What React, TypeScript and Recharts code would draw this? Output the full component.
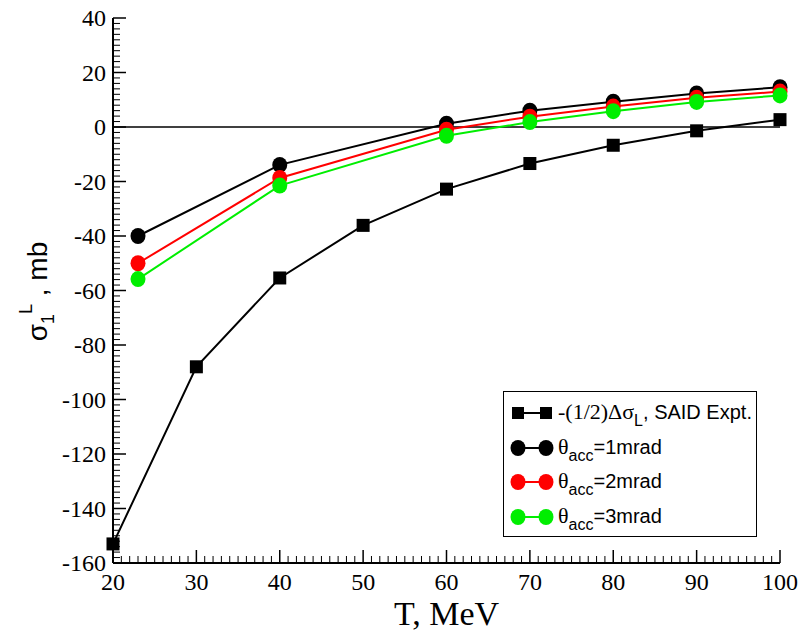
import React from 'react';
import { LineChart, Line, XAxis, YAxis, ReferenceLine, Legend } from 'recharts';

// SAID experimental points, -(1/2)ΔσL
const SAID_T = [20, 30, 40, 50, 60, 70, 80, 90, 100];
const SAID_SIGMA = [-153, -88, -55.4, -36.1, -22.8, -13.4, -6.7, -1.4, 2.7];

// calculated σ1L for different acceptance angles
const THEORY_T = [23, 40, 60, 70, 80, 90, 100];
const SIGMA_1MRAD = [-40, -13.9, 1.2, 6, 9.3, 12.3, 14.6];
const SIGMA_2MRAD = [-50, -18.7, -1, 3.8, 7.5, 10.7, 13];
const SIGMA_3MRAD = [-55.8, -21.5, -3.2, 1.8, 5.8, 9.2, 11.6];

const X_LABELS = [20, 30, 40, 50, 60, 70, 80, 90, 100];
const Y_LABELS = [-160, -140, -120, -100, -80, -60, -40, -20, 0, 20, 40];
const X_TICKS = Array.from({ length: 81 }, (_, i) => 20 + i);
const Y_TICKS = Array.from({ length: 101 }, (_, i) => -160 + 2 * i);

const LEGEND_SYMBOLS = ['-(1/2)Δσ', 'θ', 'θ', 'θ'];
const LEGEND_SUBS = ['L', 'acc', 'acc', 'acc'];
const LEGEND_REST = [', SAID Expt.', '=1mrad', '=2mrad', '=3mrad'];

const SERIF = "'Liberation Serif', 'Times New Roman', serif";
const SANS = "'Liberation Sans', Arial, sans-serif";

const tickFont = { fontFamily: SERIF, fontSize: 24, fill: '#000' };

const toPoints = (xs: number[], ys: number[]) => xs.map((x, i) => ({ x, y: ys[i] }));

const SERIES = [
  { key: 'said', data: toPoints(SAID_T, SAID_SIGMA), color: '#000000', square: true },
  { key: 'm1', data: toPoints(THEORY_T, SIGMA_1MRAD), color: '#000000', square: false },
  { key: 'm2', data: toPoints(THEORY_T, SIGMA_2MRAD), color: '#ff0000', square: false },
  { key: 'm3', data: toPoints(THEORY_T, SIGMA_3MRAD), color: '#00ee00', square: false },
];

const BottomTick = ({ x, y, payload }: any) => {
  const major = X_LABELS.includes(payload.value);
  return (
    <g>
      <line x1={x} x2={x} y1={y} y2={y - (major ? 13 : 7)} stroke="#000" strokeWidth={major ? 1.5 : 1} />
      {major && (
        <text x={x} y={y + 27} textAnchor="middle" style={tickFont}>
          {payload.value}
        </text>
      )}
    </g>
  );
};

const TopTick = ({ x, y, payload }: any) => {
  const major = X_LABELS.includes(payload.value);
  return <line x1={x} x2={x} y1={y} y2={y + (major ? 13 : 7)} stroke="#000" strokeWidth={major ? 1.5 : 1} />;
};

const LeftTick = ({ x, y, payload }: any) => {
  const major = Y_LABELS.includes(payload.value);
  return (
    <g>
      <line x1={x} x2={x + (major ? 13 : 7)} y1={y} y2={y} stroke="#000" strokeWidth={major ? 1.5 : 1} />
      {major && (
        <text x={x - 7} y={y + 8} textAnchor="end" style={tickFont}>
          {payload.value}
        </text>
      )}
    </g>
  );
};

const RightTick = ({ x, y, payload }: any) => {
  const major = Y_LABELS.includes(payload.value);
  return <line x1={x} x2={x - (major ? 13 : 7)} y1={y} y2={y} stroke="#000" strokeWidth={major ? 1.5 : 1} />;
};

const SquareDot = ({ cx, cy, index }: any) => (
  <rect key={`sq-${index}`} x={cx - 6.5} y={cy - 6.5} width={13} height={13} fill="#000" />
);

const makeCircleDot = (color: string) => ({ cx, cy, index }: any) => (
  <ellipse key={`c-${index}`} cx={cx} cy={cy} rx={7.5} ry={8} fill={color} />
);

const renderXLabel = ({ viewBox }: any) => (
  <text
    x={viewBox.x + viewBox.width / 2}
    y={viewBox.y + 62}
    textAnchor="middle"
    style={{ fontFamily: SERIF, fontSize: 34, fill: '#000' }}
  >
    T, MeV
  </text>
);

const renderYLabel = ({ viewBox }: any) => {
  const cx = viewBox.x + 47;
  const cy = viewBox.y + viewBox.height / 2 + 1;
  return (
    <text
      x={cx}
      y={cy}
      transform={`rotate(-90, ${cx}, ${cy})`}
      textAnchor="middle"
      style={{ fontFamily: SANS, fontSize: 28, fill: '#000' }}
    >
      <tspan>σ</tspan>
      <tspan fontSize={18} dy={7}>1</tspan>
      <tspan fontSize={18} dy={-22}>L</tspan>
      <tspan dy={15}> , mb</tspan>
    </text>
  );
};

const LegendBox = () => (
  <div
    style={{
      width: 254,
      height: 146,
      boxSizing: 'border-box',
      border: '1.5px solid #000',
      background: '#fff',
      paddingTop: 4,
    }}
  >
    {SERIES.map((s, i) => (
      <div key={s.key} style={{ height: 34.5, display: 'flex', alignItems: 'center' }}>
        <svg width={54} height={20} style={{ flex: 'none' }}>
          <line x1={14} x2={42} y1={10} y2={10} stroke={s.color} strokeWidth={2} />
          {s.square ? (
            <>
              <rect x={8} y={4} width={12} height={12} fill={s.color} />
              <rect x={36} y={4} width={12} height={12} fill={s.color} />
            </>
          ) : (
            <>
              <ellipse cx={14} cy={10} rx={7.5} ry={8} fill={s.color} />
              <ellipse cx={42} cy={10} rx={7.5} ry={8} fill={s.color} />
            </>
          )}
        </svg>
        <span style={{ whiteSpace: 'nowrap', color: '#000', lineHeight: '20px' }}>
          <span style={{ fontFamily: SERIF, fontSize: 22 }}>{LEGEND_SYMBOLS[i]}</span>
          <span style={{ fontFamily: SANS, fontSize: 16, position: 'relative', top: 7 }}>{LEGEND_SUBS[i]}</span>
          <span style={{ fontFamily: SANS, fontSize: 20 }}>{LEGEND_REST[i]}</span>
        </span>
      </div>
    ))}
  </div>
);

export default function App() {
  return (
    <div style={{ position: 'absolute', left: 0, top: 0, background: '#fff' }}>
      <LineChart width={804} height={633} margin={{ top: 18, right: 24, bottom: 0, left: 0 }}>
        <XAxis
          dataKey="x"
          type="number"
          domain={[20, 100]}
          ticks={X_TICKS}
          interval={0}
          height={70}
          tickSize={0}
          tickMargin={0}
          tickLine={false}
          tick={BottomTick}
          axisLine={{ stroke: '#000', strokeWidth: 2 }}
          label={renderXLabel}
        />
        <XAxis
          xAxisId="top"
          orientation="top"
          dataKey="x"
          type="number"
          domain={[20, 100]}
          ticks={X_TICKS}
          interval={0}
          height={0}
          tickSize={0}
          tickMargin={0}
          tickLine={false}
          tick={TopTick}
          axisLine={{ stroke: '#000', strokeWidth: 2 }}
        />
        <YAxis
          type="number"
          domain={[-160, 40]}
          ticks={Y_TICKS}
          interval={0}
          width={113}
          tickSize={0}
          tickMargin={0}
          tickLine={false}
          tick={LeftTick}
          axisLine={{ stroke: '#000', strokeWidth: 2 }}
          label={renderYLabel}
        />
        <YAxis
          yAxisId="right"
          orientation="right"
          type="number"
          domain={[-160, 40]}
          ticks={Y_TICKS}
          interval={0}
          width={0}
          tickSize={0}
          tickMargin={0}
          tickLine={false}
          tick={RightTick}
          axisLine={{ stroke: '#000', strokeWidth: 2 }}
        />
        <ReferenceLine y={0} stroke="#000" strokeWidth={1.5} />
        {SERIES.map((s) => (
          <Line
            key={s.key}
            data={s.data}
            dataKey="y"
            type="linear"
            stroke={s.color}
            strokeWidth={2}
            dot={s.square ? SquareDot : makeCircleDot(s.color)}
            activeDot={false}
            isAnimationActive={false}
          />
        ))}
        <Legend
          layout="horizontal"
          verticalAlign="middle"
          align="center"
          wrapperStyle={{ left: 503, top: 391, width: 254, height: 146 }}
          content={LegendBox}
        />
      </LineChart>
    </div>
  );
}
